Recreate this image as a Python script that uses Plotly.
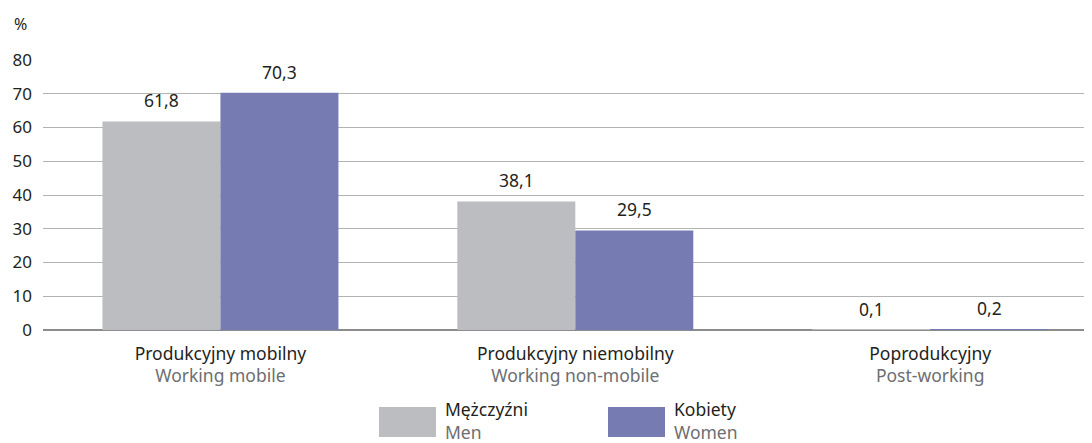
import plotly.graph_objects as go

categories_pl = ["Produkcyjny mobilny", "Produkcyjny niemobilny", "Poprodukcyjny"]
categories_en = ["Working mobile", "Working non-mobile", "Post-working"]
men = [61.8, 38.1, 0.1]
women = [70.3, 29.5, 0.2]
men_label = ("Mężczyźni", "Men")
women_label = ("Kobiety", "Women")
y_ticks = [0, 10, 20, 30, 40, 50, 60, 70, 80]

GRAY = "#bcbdc0"
PURPLE = "#767bb1"
SUB = "#6d6e71"
FONT = "Noto Sans"
BARGAP = 0.335
OFF = 8  # default page body margin of the html page

def fmt(v):
    return f"{v:.1f}".replace(".", ",")

x = list(range(len(categories_pl)))
ticktext = [f"{p}<br><span style='color:{SUB}'>{e}</span>" for p, e in zip(categories_pl, categories_en)]

fig = go.Figure()
fig.add_trace(go.Bar(x=x, y=men, name=men_label[1], marker_color=GRAY, marker_line_width=0))
fig.add_trace(go.Bar(x=x, y=women, name=women_label[1], marker_color=PURPLE, marker_line_width=0))

# value labels above bars
half = (1 - BARGAP) / 4
for i in x:
    for vals, off in ((men, -half), (women, half)):
        fig.add_annotation(x=i + off, y=vals[i], text=fmt(vals[i]), showarrow=False,
                           yanchor="bottom", yshift=7, font=dict(size=17.5, color="#231f20"))

fig.update_layout(
    width=1092 - OFF, height=443 - OFF,
    margin=dict(l=43 - OFF, r=0, t=60 - OFF, b=113, autoexpand=False),
    paper_bgcolor="white", plot_bgcolor="white",
    barmode="group", bargap=BARGAP, bargroupgap=0,
    showlegend=False,
    font=dict(family=FONT, size=17, color="#231f20"),
    xaxis=dict(tickmode="array", tickvals=x, ticktext=ticktext, automargin=False,
               range=[-0.5, 2.456], showgrid=False, ticks="", zeroline=False,
               showline=False, tickfont=dict(size=17.5), ticklabelstandoff=11),
    yaxis=dict(range=[0, 80], tickvals=y_ticks, showgrid=True, gridcolor="#b3b3b3",
               gridwidth=1, zeroline=True, zerolinecolor="#8c8c8c", zerolinewidth=1.5,
               ticks="", tickfont=dict(size=17), ticklabelstandoff=10, automargin=False),
)

fig.add_annotation(text="%", xref="paper", yref="paper", x=(12 - 43) / 1049, y=1.0, yshift=36,
                   xanchor="left", yanchor="middle", showarrow=False, font=dict(size=16))

# legend swatches and labels
legend_items = [(GRAY, men_label, 379), (PURPLE, women_label, 608)]
for color, (pl, en), px0 in legend_items:
    x0 = (px0 - 43) / 1049
    x1 = (px0 + 57 - 43) / 1049
    fig.add_shape(type="rect", xref="paper", yref="paper", x0=x0, x1=x1,
                  y0=-(437 - 330) / 270, y1=-(407 - 330) / 270,
                  fillcolor=color, line_width=0)
    fig.add_annotation(text=f"{pl}<br><span style='color:{SUB}'>{en}</span>",
                       xref="paper", yref="paper", x=(px0 + 64 - 43) / 1049,
                       y=-(420.5 - 330) / 270, xanchor="left", yanchor="middle",
                       align="left", showarrow=False, font=dict(size=17.5))

fig.write_html("out.html")
